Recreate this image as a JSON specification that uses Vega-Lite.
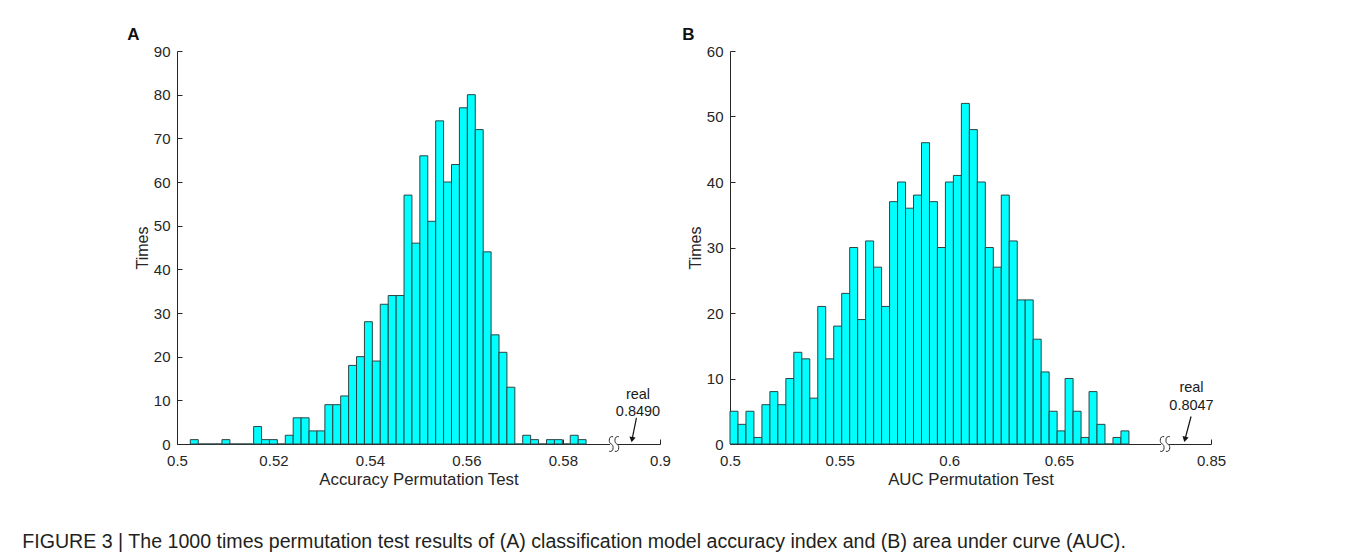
{
  "$schema": "https://vega.github.io/schema/vega-lite/v6.json",
  "background": "white",
  "padding": {"left": 22, "top": 26, "right": 5, "bottom": 5},
  "spacing": 11,
  "title": {
    "text": "FIGURE 3 | The 1000 times permutation test results of (A) classification model accuracy index and (B) area under curve (AUC).",
    "orient": "bottom",
    "anchor": "start",
    "font": "Liberation Sans",
    "fontSize": 19.6,
    "fontWeight": "normal",
    "color": "#231f20",
    "offset": 45,
    "dx": -105
  },
  "datasets": {
    "acc": [
      {"bin_start": 0.50276, "bin_end": 0.50440, "count": 1},
      {"bin_start": 0.50440, "bin_end": 0.50604, "count": 0},
      {"bin_start": 0.50604, "bin_end": 0.50768, "count": 0},
      {"bin_start": 0.50768, "bin_end": 0.50932, "count": 0},
      {"bin_start": 0.50932, "bin_end": 0.51096, "count": 1},
      {"bin_start": 0.51096, "bin_end": 0.51261, "count": 0},
      {"bin_start": 0.51261, "bin_end": 0.51425, "count": 0},
      {"bin_start": 0.51425, "bin_end": 0.51589, "count": 0},
      {"bin_start": 0.51589, "bin_end": 0.51753, "count": 4},
      {"bin_start": 0.51753, "bin_end": 0.51917, "count": 1},
      {"bin_start": 0.51917, "bin_end": 0.52081, "count": 1},
      {"bin_start": 0.52081, "bin_end": 0.52245, "count": 0},
      {"bin_start": 0.52245, "bin_end": 0.52409, "count": 2},
      {"bin_start": 0.52409, "bin_end": 0.52573, "count": 6},
      {"bin_start": 0.52573, "bin_end": 0.52738, "count": 6},
      {"bin_start": 0.52738, "bin_end": 0.52902, "count": 3},
      {"bin_start": 0.52902, "bin_end": 0.53066, "count": 3},
      {"bin_start": 0.53066, "bin_end": 0.53230, "count": 9},
      {"bin_start": 0.53230, "bin_end": 0.53394, "count": 9},
      {"bin_start": 0.53394, "bin_end": 0.53558, "count": 11},
      {"bin_start": 0.53558, "bin_end": 0.53722, "count": 18},
      {"bin_start": 0.53722, "bin_end": 0.53886, "count": 20},
      {"bin_start": 0.53886, "bin_end": 0.54050, "count": 28},
      {"bin_start": 0.54050, "bin_end": 0.54214, "count": 19},
      {"bin_start": 0.54214, "bin_end": 0.54379, "count": 32},
      {"bin_start": 0.54379, "bin_end": 0.54543, "count": 34},
      {"bin_start": 0.54543, "bin_end": 0.54707, "count": 34},
      {"bin_start": 0.54707, "bin_end": 0.54871, "count": 57},
      {"bin_start": 0.54871, "bin_end": 0.55035, "count": 46},
      {"bin_start": 0.55035, "bin_end": 0.55199, "count": 66},
      {"bin_start": 0.55199, "bin_end": 0.55363, "count": 51},
      {"bin_start": 0.55363, "bin_end": 0.55527, "count": 74},
      {"bin_start": 0.55527, "bin_end": 0.55691, "count": 60},
      {"bin_start": 0.55691, "bin_end": 0.55855, "count": 64},
      {"bin_start": 0.55855, "bin_end": 0.56020, "count": 77},
      {"bin_start": 0.56020, "bin_end": 0.56184, "count": 80},
      {"bin_start": 0.56184, "bin_end": 0.56348, "count": 72},
      {"bin_start": 0.56348, "bin_end": 0.56512, "count": 44},
      {"bin_start": 0.56512, "bin_end": 0.56676, "count": 25},
      {"bin_start": 0.56676, "bin_end": 0.56840, "count": 21},
      {"bin_start": 0.56840, "bin_end": 0.57004, "count": 13},
      {"bin_start": 0.57004, "bin_end": 0.57168, "count": 0},
      {"bin_start": 0.57168, "bin_end": 0.57332, "count": 2},
      {"bin_start": 0.57332, "bin_end": 0.57496, "count": 1},
      {"bin_start": 0.57496, "bin_end": 0.57661, "count": 0},
      {"bin_start": 0.57661, "bin_end": 0.57825, "count": 1},
      {"bin_start": 0.57825, "bin_end": 0.57989, "count": 1},
      {"bin_start": 0.57989, "bin_end": 0.58153, "count": 0},
      {"bin_start": 0.58153, "bin_end": 0.58317, "count": 2},
      {"bin_start": 0.58317, "bin_end": 0.58481, "count": 1}
    ],
    "auc": [
      {"bin_start": 0.50000, "bin_end": 0.50364, "count": 5},
      {"bin_start": 0.50364, "bin_end": 0.50728, "count": 3},
      {"bin_start": 0.50728, "bin_end": 0.51092, "count": 5},
      {"bin_start": 0.51092, "bin_end": 0.51456, "count": 1},
      {"bin_start": 0.51456, "bin_end": 0.51820, "count": 6},
      {"bin_start": 0.51820, "bin_end": 0.52183, "count": 8},
      {"bin_start": 0.52183, "bin_end": 0.52547, "count": 6},
      {"bin_start": 0.52547, "bin_end": 0.52911, "count": 10},
      {"bin_start": 0.52911, "bin_end": 0.53275, "count": 14},
      {"bin_start": 0.53275, "bin_end": 0.53639, "count": 13},
      {"bin_start": 0.53639, "bin_end": 0.54003, "count": 7},
      {"bin_start": 0.54003, "bin_end": 0.54367, "count": 21},
      {"bin_start": 0.54367, "bin_end": 0.54731, "count": 13},
      {"bin_start": 0.54731, "bin_end": 0.55095, "count": 18},
      {"bin_start": 0.55095, "bin_end": 0.55459, "count": 23},
      {"bin_start": 0.55459, "bin_end": 0.55822, "count": 30},
      {"bin_start": 0.55822, "bin_end": 0.56186, "count": 19},
      {"bin_start": 0.56186, "bin_end": 0.56550, "count": 31},
      {"bin_start": 0.56550, "bin_end": 0.56914, "count": 27},
      {"bin_start": 0.56914, "bin_end": 0.57278, "count": 21},
      {"bin_start": 0.57278, "bin_end": 0.57642, "count": 37},
      {"bin_start": 0.57642, "bin_end": 0.58006, "count": 40},
      {"bin_start": 0.58006, "bin_end": 0.58370, "count": 36},
      {"bin_start": 0.58370, "bin_end": 0.58734, "count": 38},
      {"bin_start": 0.58734, "bin_end": 0.59098, "count": 46},
      {"bin_start": 0.59098, "bin_end": 0.59461, "count": 37},
      {"bin_start": 0.59461, "bin_end": 0.59825, "count": 30},
      {"bin_start": 0.59825, "bin_end": 0.60189, "count": 40},
      {"bin_start": 0.60189, "bin_end": 0.60553, "count": 41},
      {"bin_start": 0.60553, "bin_end": 0.60917, "count": 52},
      {"bin_start": 0.60917, "bin_end": 0.61281, "count": 48},
      {"bin_start": 0.61281, "bin_end": 0.61645, "count": 40},
      {"bin_start": 0.61645, "bin_end": 0.62009, "count": 30},
      {"bin_start": 0.62009, "bin_end": 0.62373, "count": 27},
      {"bin_start": 0.62373, "bin_end": 0.62737, "count": 38},
      {"bin_start": 0.62737, "bin_end": 0.63100, "count": 31},
      {"bin_start": 0.63100, "bin_end": 0.63464, "count": 22},
      {"bin_start": 0.63464, "bin_end": 0.63828, "count": 22},
      {"bin_start": 0.63828, "bin_end": 0.64192, "count": 16},
      {"bin_start": 0.64192, "bin_end": 0.64556, "count": 11},
      {"bin_start": 0.64556, "bin_end": 0.64920, "count": 5},
      {"bin_start": 0.64920, "bin_end": 0.65284, "count": 2},
      {"bin_start": 0.65284, "bin_end": 0.65648, "count": 10},
      {"bin_start": 0.65648, "bin_end": 0.66012, "count": 5},
      {"bin_start": 0.66012, "bin_end": 0.66376, "count": 1},
      {"bin_start": 0.66376, "bin_end": 0.66739, "count": 8},
      {"bin_start": 0.66739, "bin_end": 0.67103, "count": 3},
      {"bin_start": 0.67103, "bin_end": 0.67467, "count": 0},
      {"bin_start": 0.67467, "bin_end": 0.67831, "count": 1},
      {"bin_start": 0.67831, "bin_end": 0.68195, "count": 2}
    ],
    "breakA": [{"x": 0.5906, "y": 0}],
    "breakB": [{"x": 0.6984, "y": 0}],
    "arrowA": [{"x": 0.857, "y": 6.0, "x2": 0.8492, "y2": 1.2}],
    "arrowB": [{"x": 0.8153, "y": 4.2, "x2": 0.8050, "y2": 0.8}],
    "headA": [{"x": 0.8490, "y": 1.0}],
    "headB": [{"x": 0.8047, "y": 0.7}],
    "labelA": [{"x": 0.8598, "y": 11.2, "t": "real"}, {"x": 0.8598, "y": 7.4, "t": "0.8490"}],
    "labelB": [{"x": 0.8161, "y": 8.6, "t": "real"}, {"x": 0.8161, "y": 5.85, "t": "0.8047"}]
  },
  "hconcat": [
    {
      "width": 483,
      "height": 393,
      "title": {"text": "A", "anchor": "start", "frame": "bounds", "fontSize": 17, "fontWeight": "bold", "font": "Liberation Sans", "color": "#111", "dx": -7, "offset": 0},
      "layer": [
        {
          "data": {"name": "acc"},
          "mark": {"type": "rect", "fill": "#00ffff", "stroke": "#2e4444", "strokeWidth": 1},
          "encoding": {
            "x": {"field": "bin_start", "type": "quantitative", "title": "Accuracy Permutation Test",
                  "scale": {"domain": [0.5, 0.5906, 0.816, 0.9], "range": [0, 437, 437, 483], "nice": false, "zero": false},
                  "axis": {"values": [0.5, 0.52, 0.54, 0.56, 0.58, 0.9], "format": ".2~f"}},
            "x2": {"field": "bin_end"},
            "y": {"field": "count", "type": "quantitative", "title": "Times",
                  "scale": {"domain": [0, 90], "nice": false, "zero": true},
                  "axis": {"values": [0, 10, 20, 30, 40, 50, 60, 70, 80, 90]}},
            "y2": {"datum": 0}
          }
        },
        {
          "data": {"name": "breakA"},
          "mark": {"type": "point", "shape": "square", "filled": true, "fill": "white", "strokeWidth": 0, "size": 64, "opacity": 1},
          "encoding": {"x": {"field": "x", "type": "quantitative", "title": "Accuracy Permutation Test"}, "y": {"field": "y", "type": "quantitative", "title": "Times"}}
        },
        {
          "data": {"name": "breakA"},
          "mark": {"type": "point", "shape": "M -0.1 -0.9 C -0.7 -1.1 -0.7 -0.1 -0.35 0 C 0 0.1 0 1.1 -0.6 0.9 M 0.6 -0.9 C 0 -1.1 0 -0.1 0.35 0 C 0.7 0.1 0.7 1.1 0.1 0.9", "filled": false, "stroke": "#262626", "strokeWidth": 1, "size": 260, "opacity": 1},
          "encoding": {"x": {"field": "x", "type": "quantitative", "title": "Accuracy Permutation Test"}, "y": {"field": "y", "type": "quantitative", "title": "Times"}}
        },
        {
          "data": {"name": "arrowA"},
          "mark": {"type": "rule", "stroke": "#111", "strokeWidth": 1.2},
          "encoding": {"x": {"field": "x", "type": "quantitative", "title": "Accuracy Permutation Test"}, "y": {"field": "y", "type": "quantitative", "title": "Times"}, "x2": {"field": "x2"}, "y2": {"field": "y2"}}
        },
        {
          "data": {"name": "headA"},
          "mark": {"type": "point", "shape": "triangle-down", "filled": true, "fill": "#111", "strokeWidth": 0, "size": 40, "angle": 10, "opacity": 1},
          "encoding": {"x": {"field": "x", "type": "quantitative", "title": "Accuracy Permutation Test"}, "y": {"field": "y", "type": "quantitative", "title": "Times"}}
        },
        {
          "data": {"name": "labelA"},
          "mark": {"type": "text", "font": "Liberation Sans", "fontSize": 14.5, "color": "#1a1a1a", "align": "center", "baseline": "middle"},
          "encoding": {"x": {"field": "x", "type": "quantitative", "title": "Accuracy Permutation Test"}, "y": {"field": "y", "type": "quantitative", "title": "Times"}, "text": {"field": "t"}}
        }
      ]
    },
    {
      "width": 481,
      "height": 393,
      "title": {"text": "B", "anchor": "start", "frame": "bounds", "fontSize": 17, "fontWeight": "bold", "font": "Liberation Sans", "color": "#111", "dx": -5, "offset": 0},
      "layer": [
        {
          "data": {"name": "auc"},
          "mark": {"type": "rect", "fill": "#00ffff", "stroke": "#2e4444", "strokeWidth": 1},
          "encoding": {
            "x": {"field": "bin_start", "type": "quantitative", "title": "AUC Permutation Test",
                  "scale": {"domain": [0.5, 0.6984, 0.77, 0.85], "range": [0, 435, 435, 481], "nice": false, "zero": false},
                  "axis": {"values": [0.5, 0.55, 0.6, 0.65, 0.85], "format": ".2~f"}},
            "x2": {"field": "bin_end"},
            "y": {"field": "count", "type": "quantitative", "title": "Times",
                  "scale": {"domain": [0, 60], "nice": false, "zero": true},
                  "axis": {"values": [0, 10, 20, 30, 40, 50, 60]}},
            "y2": {"datum": 0}
          }
        },
        {
          "data": {"name": "breakB"},
          "mark": {"type": "point", "shape": "square", "filled": true, "fill": "white", "strokeWidth": 0, "size": 64, "opacity": 1},
          "encoding": {"x": {"field": "x", "type": "quantitative", "title": "AUC Permutation Test"}, "y": {"field": "y", "type": "quantitative", "title": "Times"}}
        },
        {
          "data": {"name": "breakB"},
          "mark": {"type": "point", "shape": "M -0.1 -0.9 C -0.7 -1.1 -0.7 -0.1 -0.35 0 C 0 0.1 0 1.1 -0.6 0.9 M 0.6 -0.9 C 0 -1.1 0 -0.1 0.35 0 C 0.7 0.1 0.7 1.1 0.1 0.9", "filled": false, "stroke": "#262626", "strokeWidth": 1, "size": 260, "opacity": 1},
          "encoding": {"x": {"field": "x", "type": "quantitative", "title": "AUC Permutation Test"}, "y": {"field": "y", "type": "quantitative", "title": "Times"}}
        },
        {
          "data": {"name": "arrowB"},
          "mark": {"type": "rule", "stroke": "#111", "strokeWidth": 1.2},
          "encoding": {"x": {"field": "x", "type": "quantitative", "title": "AUC Permutation Test"}, "y": {"field": "y", "type": "quantitative", "title": "Times"}, "x2": {"field": "x2"}, "y2": {"field": "y2"}}
        },
        {
          "data": {"name": "headB"},
          "mark": {"type": "point", "shape": "triangle-down", "filled": true, "fill": "#111", "strokeWidth": 0, "size": 40, "angle": 13, "opacity": 1},
          "encoding": {"x": {"field": "x", "type": "quantitative", "title": "AUC Permutation Test"}, "y": {"field": "y", "type": "quantitative", "title": "Times"}}
        },
        {
          "data": {"name": "labelB"},
          "mark": {"type": "text", "font": "Liberation Sans", "fontSize": 14.5, "color": "#1a1a1a", "align": "center", "baseline": "middle"},
          "encoding": {"x": {"field": "x", "type": "quantitative", "title": "AUC Permutation Test"}, "y": {"field": "y", "type": "quantitative", "title": "Times"}, "text": {"field": "t"}}
        }
      ]
    }
  ],
  "config": {
    "view": {"stroke": null},
    "axis": {
      "grid": false,
      "domainColor": "#262626",
      "domainWidth": 1,
      "tickColor": "#262626",
      "tickWidth": 1,
      "tickSize": -5,
      "labelColor": "#262626",
      "titleColor": "#262626",
      "labelFont": "Liberation Sans",
      "titleFont": "Liberation Sans",
      "labelFontSize": 15,
      "titleFontSize": 16,
      "titleFontWeight": "normal"
    },
    "axisX": {"labelPadding": 14, "titlePadding": 3, "labelFlush": false, "titleFontSize": 16.8},
    "axisY": {"labelPadding": 12, "titlePadding": 3, "labelFlush": false}
  }
}
